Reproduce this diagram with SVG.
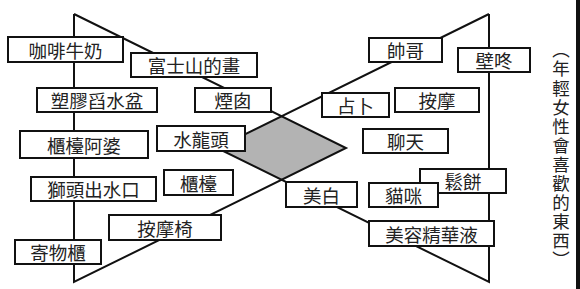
<svg xmlns="http://www.w3.org/2000/svg" width="580" height="289" viewBox="0 0 580 289">
<style>
.ln{stroke:#111;stroke-width:2;fill:none;stroke-linejoin:miter}
.bx rect{fill:#fff;stroke:#111;stroke-width:2}
.bx text{font-family:"Noto Sans CJK TC","Noto Sans CJK SC",sans-serif;font-size:18.5px;fill:#222;text-anchor:middle;dominant-baseline:central}
.vt{font-family:"Noto Sans CJK TC","Noto Sans CJK SC",sans-serif;font-size:17.5px;letter-spacing:1.6px;fill:#222;writing-mode:vertical-rl}
</style>
<rect width="580" height="289" fill="#fff"/>
<g id="connectors">
<polygon points="217,148 281.5,116 346,148 281.5,180" fill="#b3b3b3" stroke="none"/>
<polyline class="ln" points="74,14 74,282 346,148 74,14"/>
<polyline class="ln" points="489,14 489,282 217,148 489,14"/>
</g>
<g id="n1" class="bx"><rect x="8" y="37" width="115" height="25"/><text x="65.5" y="49.5">咖啡牛奶</text></g>
<g id="n2" class="bx"><rect x="131" y="53" width="126" height="24"/><text x="194" y="65">富士山的畫</text></g>
<g id="n3" class="bx"><rect x="37" y="88" width="120" height="24"/><text x="97" y="100">塑膠舀水盆</text></g>
<g id="n4" class="bx"><rect x="195" y="88" width="76" height="24"/><text x="233" y="100">煙囱</text></g>
<g id="n5" class="bx"><rect x="20" y="131" width="128" height="27"/><text x="84" y="144.5">櫃檯阿婆</text></g>
<g id="n6" class="bx"><rect x="157" y="126" width="88" height="25"/><text x="201" y="138.5">水龍頭</text></g>
<g id="n7" class="bx"><rect x="31" y="177" width="125" height="24"/><text x="93.5" y="189">獅頭出水口</text></g>
<g id="n8" class="bx"><rect x="164" y="170" width="69" height="25"/><text x="198.5" y="182.5">櫃檯</text></g>
<g id="n9" class="bx"><rect x="109" y="215" width="112" height="25"/><text x="165" y="227.5">按摩椅</text></g>
<g id="n10" class="bx"><rect x="15" y="240" width="86" height="24"/><text x="58" y="252">寄物櫃</text></g>
<g id="n11" class="bx"><rect x="369" y="38" width="73" height="24"/><text x="405.5" y="50">帥哥</text></g>
<g id="n12" class="bx"><rect x="458" y="48" width="72" height="24"/><text x="494" y="60">壁咚</text></g>
<g id="n13" class="bx"><rect x="322" y="93" width="67" height="24"/><text x="355.5" y="105">占卜</text></g>
<g id="n14" class="bx"><rect x="395" y="88" width="84" height="24"/><text x="437" y="100">按摩</text></g>
<g id="n15" class="bx"><rect x="363" y="129" width="85" height="24"/><text x="405.5" y="141">聊天</text></g>
<g id="n16" class="bx"><rect x="420" y="169" width="86" height="24"/><text x="463" y="181">鬆餅</text></g>
<g id="n17" class="bx"><rect x="369" y="183" width="69" height="24"/><text x="403.5" y="195">貓咪</text></g>
<g id="n18" class="bx"><rect x="286" y="182" width="71" height="25"/><text x="321.5" y="194.5">美白</text></g>
<g id="n19" class="bx"><rect x="369" y="221" width="125" height="25"/><text x="431.5" y="233.5">美容精華液</text></g>
<text class="vt" x="561" y="41">（年輕女性會喜歡的東西）</text>
<rect x="576" y="0" width="4" height="289" fill="#111"/>
</svg>
